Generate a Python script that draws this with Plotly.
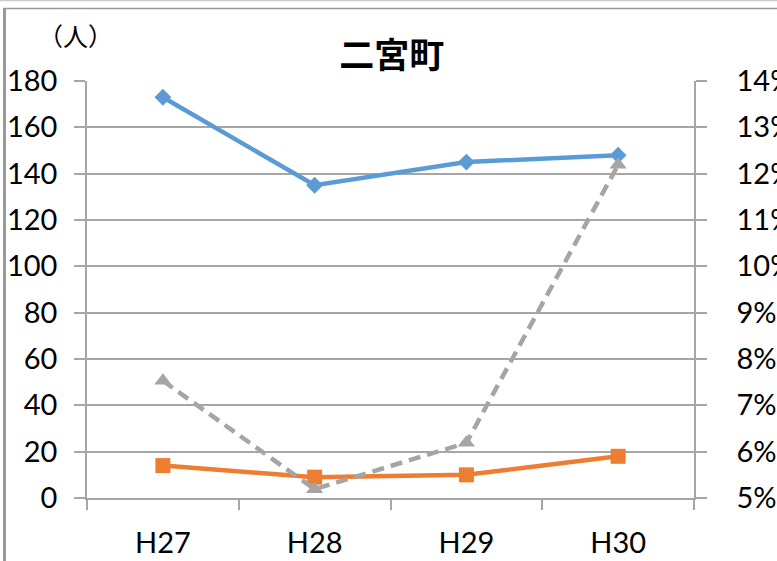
import plotly.graph_objects as go

# Data
years = ["H27", "H28", "H29", "H30"]
series_blue = [173, 135, 145, 148]        # left axis (人)
series_orange = [14, 9, 10, 18]           # left axis (人)
series_rate = [0.0753, 0.0519, 0.0619, 0.1219]  # right axis (%)

left_ticks = [0, 20, 40, 60, 80, 100, 120, 140, 160, 180]
right_ticks = [0.05, 0.06, 0.07, 0.08, 0.09, 0.10, 0.11, 0.12, 0.13, 0.14]

W, H = 777, 561
ML, MR, MT, MB = 87, 83, 81, 63
PW = W - ML - MR
PH = H - MT - MB

GRID = "#a6a6a6"
TICKFONT = dict(family="Lato, Open Sans, sans-serif", size=29, color="#000")


def px(x):
    return (x - ML) / PW


def py(y):
    return (H - MB - y) / PH


fig = go.Figure()

fig.add_trace(go.Scatter(
    x=years, y=series_blue, mode="lines+markers",
    line=dict(color="#5b9bd5", width=4.5),
    marker=dict(symbol="diamond", size=13, color="#5b9bd5"),
    showlegend=False,
))
fig.add_trace(go.Scatter(
    x=years, y=series_orange, mode="lines+markers",
    line=dict(color="#ed7d31", width=4.5),
    marker=dict(symbol="square", size=15, color="#ed7d31"),
    showlegend=False,
))
fig.add_trace(go.Scatter(
    x=years, y=series_rate, mode="lines+markers", yaxis="y2",
    line=dict(color="#a5a5a5", width=4.5, dash="12px,7px"),
    marker=dict(symbol="triangle-up", size=15, color="#a5a5a5"),
    showlegend=False,
))

# outer frame lines
shapes = [
    dict(type="line", xref="paper", yref="paper", x0=px(0), x1=px(W), y0=py(0.5), y1=py(0.5),
         line=dict(color="#cccccc", width=1.5)),
    dict(type="line", xref="paper", yref="paper", x0=px(3), x1=px(W), y0=py(8.5), y1=py(8.5),
         line=dict(color="#999999", width=1.5)),
    dict(type="line", xref="paper", yref="paper", x0=px(4.5), x1=px(4.5), y0=py(8), y1=py(H),
         line=dict(color="#999999", width=3)),
]

fig.update_layout(
    width=W, height=H,
    margin=dict(l=ML, r=MR, t=MT, b=MB, autoexpand=False),
    paper_bgcolor="white", plot_bgcolor="white",
    shapes=shapes,
    title=dict(text="<b>二宮町</b>", x=px(393), xanchor="center", y=1 - 56 / H, yanchor="middle",
               font=dict(family="Noto Sans CJK JP", size=35, color="#000")),
    annotations=[dict(text="（人）", xref="paper", yref="paper", x=px(75), y=py(35),
                      xanchor="center", yanchor="middle", showarrow=False,
                      font=dict(family="Noto Sans CJK JP", size=25, color="#000"))],
    xaxis=dict(
        type="category", range=[-0.5, 3.5], automargin=False,
        showline=True, linecolor=GRID, linewidth=1.5,
        ticks="outside", tickson="boundaries", ticklen=10, tickcolor=GRID, tickwidth=1.5,
        showgrid=False, tickfont=TICKFONT, ticklabelstandoff=18,
    ),
    yaxis=dict(
        range=[0, 180], tickvals=left_ticks, automargin=False,
        showline=True, linecolor=GRID, linewidth=1.5,
        ticks="outside", ticklen=11, tickcolor=GRID, tickwidth=1.5,
        showgrid=True, gridcolor=GRID, gridwidth=1.5, zeroline=False,
        tickfont=TICKFONT, ticklabelstandoff=11,
    ),
    yaxis2=dict(
        range=[0.05, 0.14], tickvals=right_ticks, tickformat=".0%", automargin=False,
        overlaying="y", side="right",
        showline=True, linecolor=GRID, linewidth=1.5,
        ticks="outside", ticklen=11, tickcolor=GRID, tickwidth=1.5,
        showgrid=False, zeroline=False,
        tickfont=TICKFONT, ticklabelstandoff=24,
    ),
)

fig.write_html("out.html")
